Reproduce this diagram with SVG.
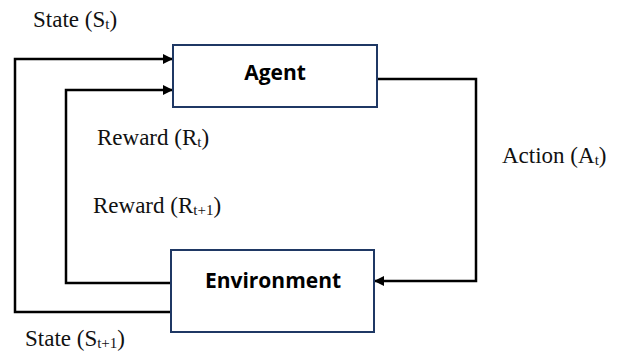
<svg xmlns="http://www.w3.org/2000/svg" width="618" height="356" viewBox="0 0 618 356">
<defs>
<marker id="ah" markerWidth="10" markerHeight="10" refX="9" refY="5" orient="auto" markerUnits="userSpaceOnUse">
<path d="M0,0 L10,5 L0,10 Z" fill="#000"/>
</marker>
<style>
.box{fill:#fff;stroke:#1f3864;stroke-width:2}
.nl{font-family:"Open Sans","Liberation Sans",sans-serif;font-weight:bold;font-size:21px;fill:#000;text-anchor:middle}
.lbl{font-family:"Liberation Serif",serif;font-size:23px;fill:#111}
.sub{font-size:15px}
.c{fill:none;stroke:#000;stroke-width:2.5}
</style>
</defs>
<rect width="618" height="356" fill="#fff"/>
<g id="connectors">
<polyline class="c" points="377,79 476,79 476,281 375,281" marker-end="url(#ah)"/>
<polyline class="c" points="171,312 15,312 15,59 172,59" marker-end="url(#ah)"/>
<polyline class="c" points="171,283 66,283 66,90 172,90" marker-end="url(#ah)"/>
</g>
<g id="agent">
<rect class="box" x="173" y="45" width="204" height="62"/>
<text class="nl" x="275" y="80">Agent</text>
</g>
<g id="environment">
<rect class="box" x="171" y="250" width="203" height="82"/>
<text class="nl" x="273" y="288">Environment</text>
</g>
<g id="labels">
<text class="lbl" x="33" y="27">State (S<tspan class="sub" dy="2">t</tspan><tspan dy="-2">)</tspan></text>
<text class="lbl" x="97" y="145">Reward (R<tspan class="sub" dy="2">t</tspan><tspan dy="-2">)</tspan></text>
<text class="lbl" x="502" y="163">Action (A<tspan class="sub" dy="2">t</tspan><tspan dy="-2">)</tspan></text>
<text class="lbl" x="93" y="213">Reward (R<tspan class="sub" dy="2">t+1</tspan><tspan dy="-2">)</tspan></text>
<text class="lbl" x="25" y="346">State (S<tspan class="sub" dy="2">t+1</tspan><tspan dy="-2">)</tspan></text>
</g>
</svg>
